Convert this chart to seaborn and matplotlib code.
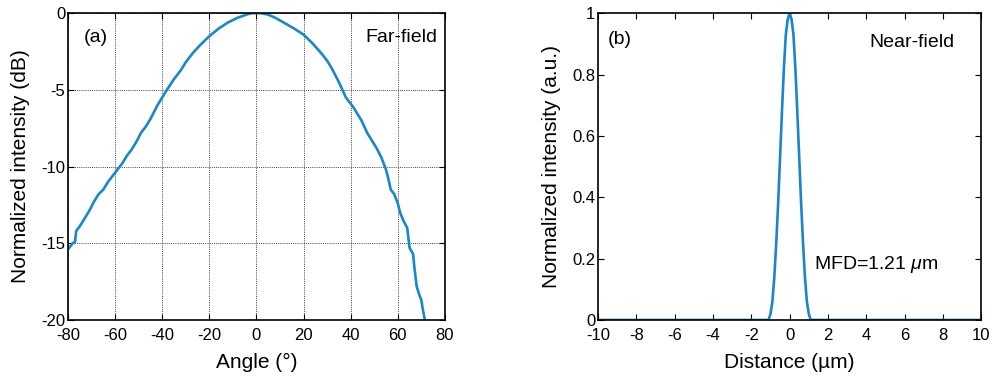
import matplotlib
matplotlib.use("Agg")
import matplotlib.pyplot as plt
import seaborn as sns
import pandas as pd

# far-field profile (angle in deg, intensity in dB)
angle = [-80, -78, -77, -76.5, -75, -73, -71, -69, -67, -65, -63, -61, -59, -57,
         -55, -53, -51, -49, -47, -45, -42, -40, -38, -35, -32, -30, -27, -24,
         -20, -16, -12, -8, -4, -2, 0, 2, 5, 8, 12, 16, 20, 24, 28, 30, 32, 35,
         38, 41, 44.6, 47, 49, 51, 53, 55, 56, 57, 58.5, 60, 61, 62.3, 64, 65,
         66.5, 67, 68, 69, 70, 70.5, 71.5]
far_db = [-15.4, -15.0, -14.9, -14.2, -13.9, -13.4, -12.9, -12.3, -11.8, -11.5,
          -11.0, -10.6, -10.2, -9.8, -9.3, -8.9, -8.4, -7.8, -7.4, -6.9, -6.0,
          -5.5, -5.0, -4.3, -3.7, -3.2, -2.6, -2.1, -1.5, -1.0, -0.6, -0.3,
          -0.08, 0.0, 0.0, 0.0, -0.1, -0.3, -0.65, -1.0, -1.4, -2.0, -2.7, -3.1,
          -3.6, -4.5, -5.5, -6.1, -7.0, -7.8, -8.3, -8.8, -9.4, -10.2, -10.8,
          -11.5, -11.8, -12.4, -13.0, -13.5, -14.0, -15.3, -15.7, -16.5, -17.8,
          -18.3, -18.7, -19.2, -20.0]

# near-field profile (distance in um, normalized intensity)
distance = [-10, -1.2, -1.1, -1.0, -0.9, -0.8, -0.7, -0.6, -0.5, -0.4, -0.3,
            -0.2, -0.1, 0.0, 0.1, 0.2, 0.3, 0.4, 0.5, 0.6, 0.7, 0.8, 0.9, 1.0,
            1.1, 1.2, 10]
near_int = [0, 0, 0, 0.02, 0.06, 0.14, 0.25, 0.38, 0.53, 0.68, 0.82, 0.93,
            0.98, 1.0, 0.98, 0.93, 0.82, 0.68, 0.53, 0.38, 0.25, 0.14, 0.06,
            0.02, 0, 0, 0]

far = pd.DataFrame({'angle': angle, 'db': far_db})
near = pd.DataFrame({'distance': distance, 'intensity': near_int})

sns.set_style('ticks')
plt.rcParams['font.family'] = ['Liberation Sans', 'DejaVu Sans']
plt.rcParams['axes.unicode_minus'] = False
plt.rcParams['mathtext.fontset'] = 'custom'
plt.rcParams['mathtext.it'] = 'Liberation Sans:italic'
plt.rcParams['mathtext.rm'] = 'Liberation Sans'
plt.rcParams['text.color'] = 'black'
plt.rcParams['axes.labelcolor'] = 'black'
plt.rcParams['xtick.color'] = 'black'
plt.rcParams['ytick.color'] = 'black'

blue = '#1a86cc'

fig = plt.figure(figsize=(9.92, 3.76), dpi=100)
ax1 = fig.add_axes([0.0685, 0.149, 0.380, 0.816])
ax2 = fig.add_axes([0.603, 0.149, 0.386, 0.816])

sns.lineplot(data=far, x='angle', y='db', ax=ax1, color=blue, linewidth=1.9, sort=False)
ax1.set_xlim(-80, 80)
ax1.set_ylim(-20, 0)
ax1.set_xticks(range(-80, 81, 20))
ax1.set_yticks([-20, -15, -10, -5, 0])
ax1.grid(True, linestyle=(0, (1, 1.2)), color='#444444', linewidth=0.7)
ax1.set_xlabel('Angle (°)', fontsize=15, labelpad=7)
ax1.set_ylabel('Normalized intensity (dB)', fontsize=15, labelpad=8)
ax1.text(-73.5, -1.6, '(a)', fontsize=14, va='center', ha='left')
ax1.text(77, -1.6, 'Far-field', fontsize=14, va='center', ha='right')

sns.lineplot(data=near, x='distance', y='intensity', ax=ax2, color=blue, linewidth=1.9, sort=False)
ax2.set_xlim(-10, 10)
ax2.set_ylim(0, 1)
ax2.set_xticks(range(-10, 11, 2))
ax2.set_yticks([0, 0.2, 0.4, 0.6, 0.8, 1])
ax2.set_yticklabels(['0', '0.2', '0.4', '0.6', '0.8', '1'])
ax2.set_xlabel('Distance (µm)', fontsize=15, labelpad=7)
ax2.set_ylabel('Normalized intensity (a.u.)', fontsize=15, labelpad=8)
ax2.text(-9.5, 0.915, '(b)', fontsize=14, va='center', ha='left')
ax2.text(8.6, 0.905, 'Near-field', fontsize=14, va='center', ha='right')
ax2.text(1.25, 0.18, r'MFD=1.21 $\mathit{\mu}$m', fontsize=14, va='center', ha='left')

for ax in (ax1, ax2):
    ax.tick_params(direction='in', top=True, right=True, labelsize=12,
                   length=4, width=0.8)
    ax.tick_params(axis='x', pad=6)
    ax.tick_params(axis='y', pad=2)
    for s in ax.spines.values():
        s.set_visible(True)
        s.set_linewidth(1.2)
        s.set_color('black')

fig.savefig('out.png', dpi=100)
